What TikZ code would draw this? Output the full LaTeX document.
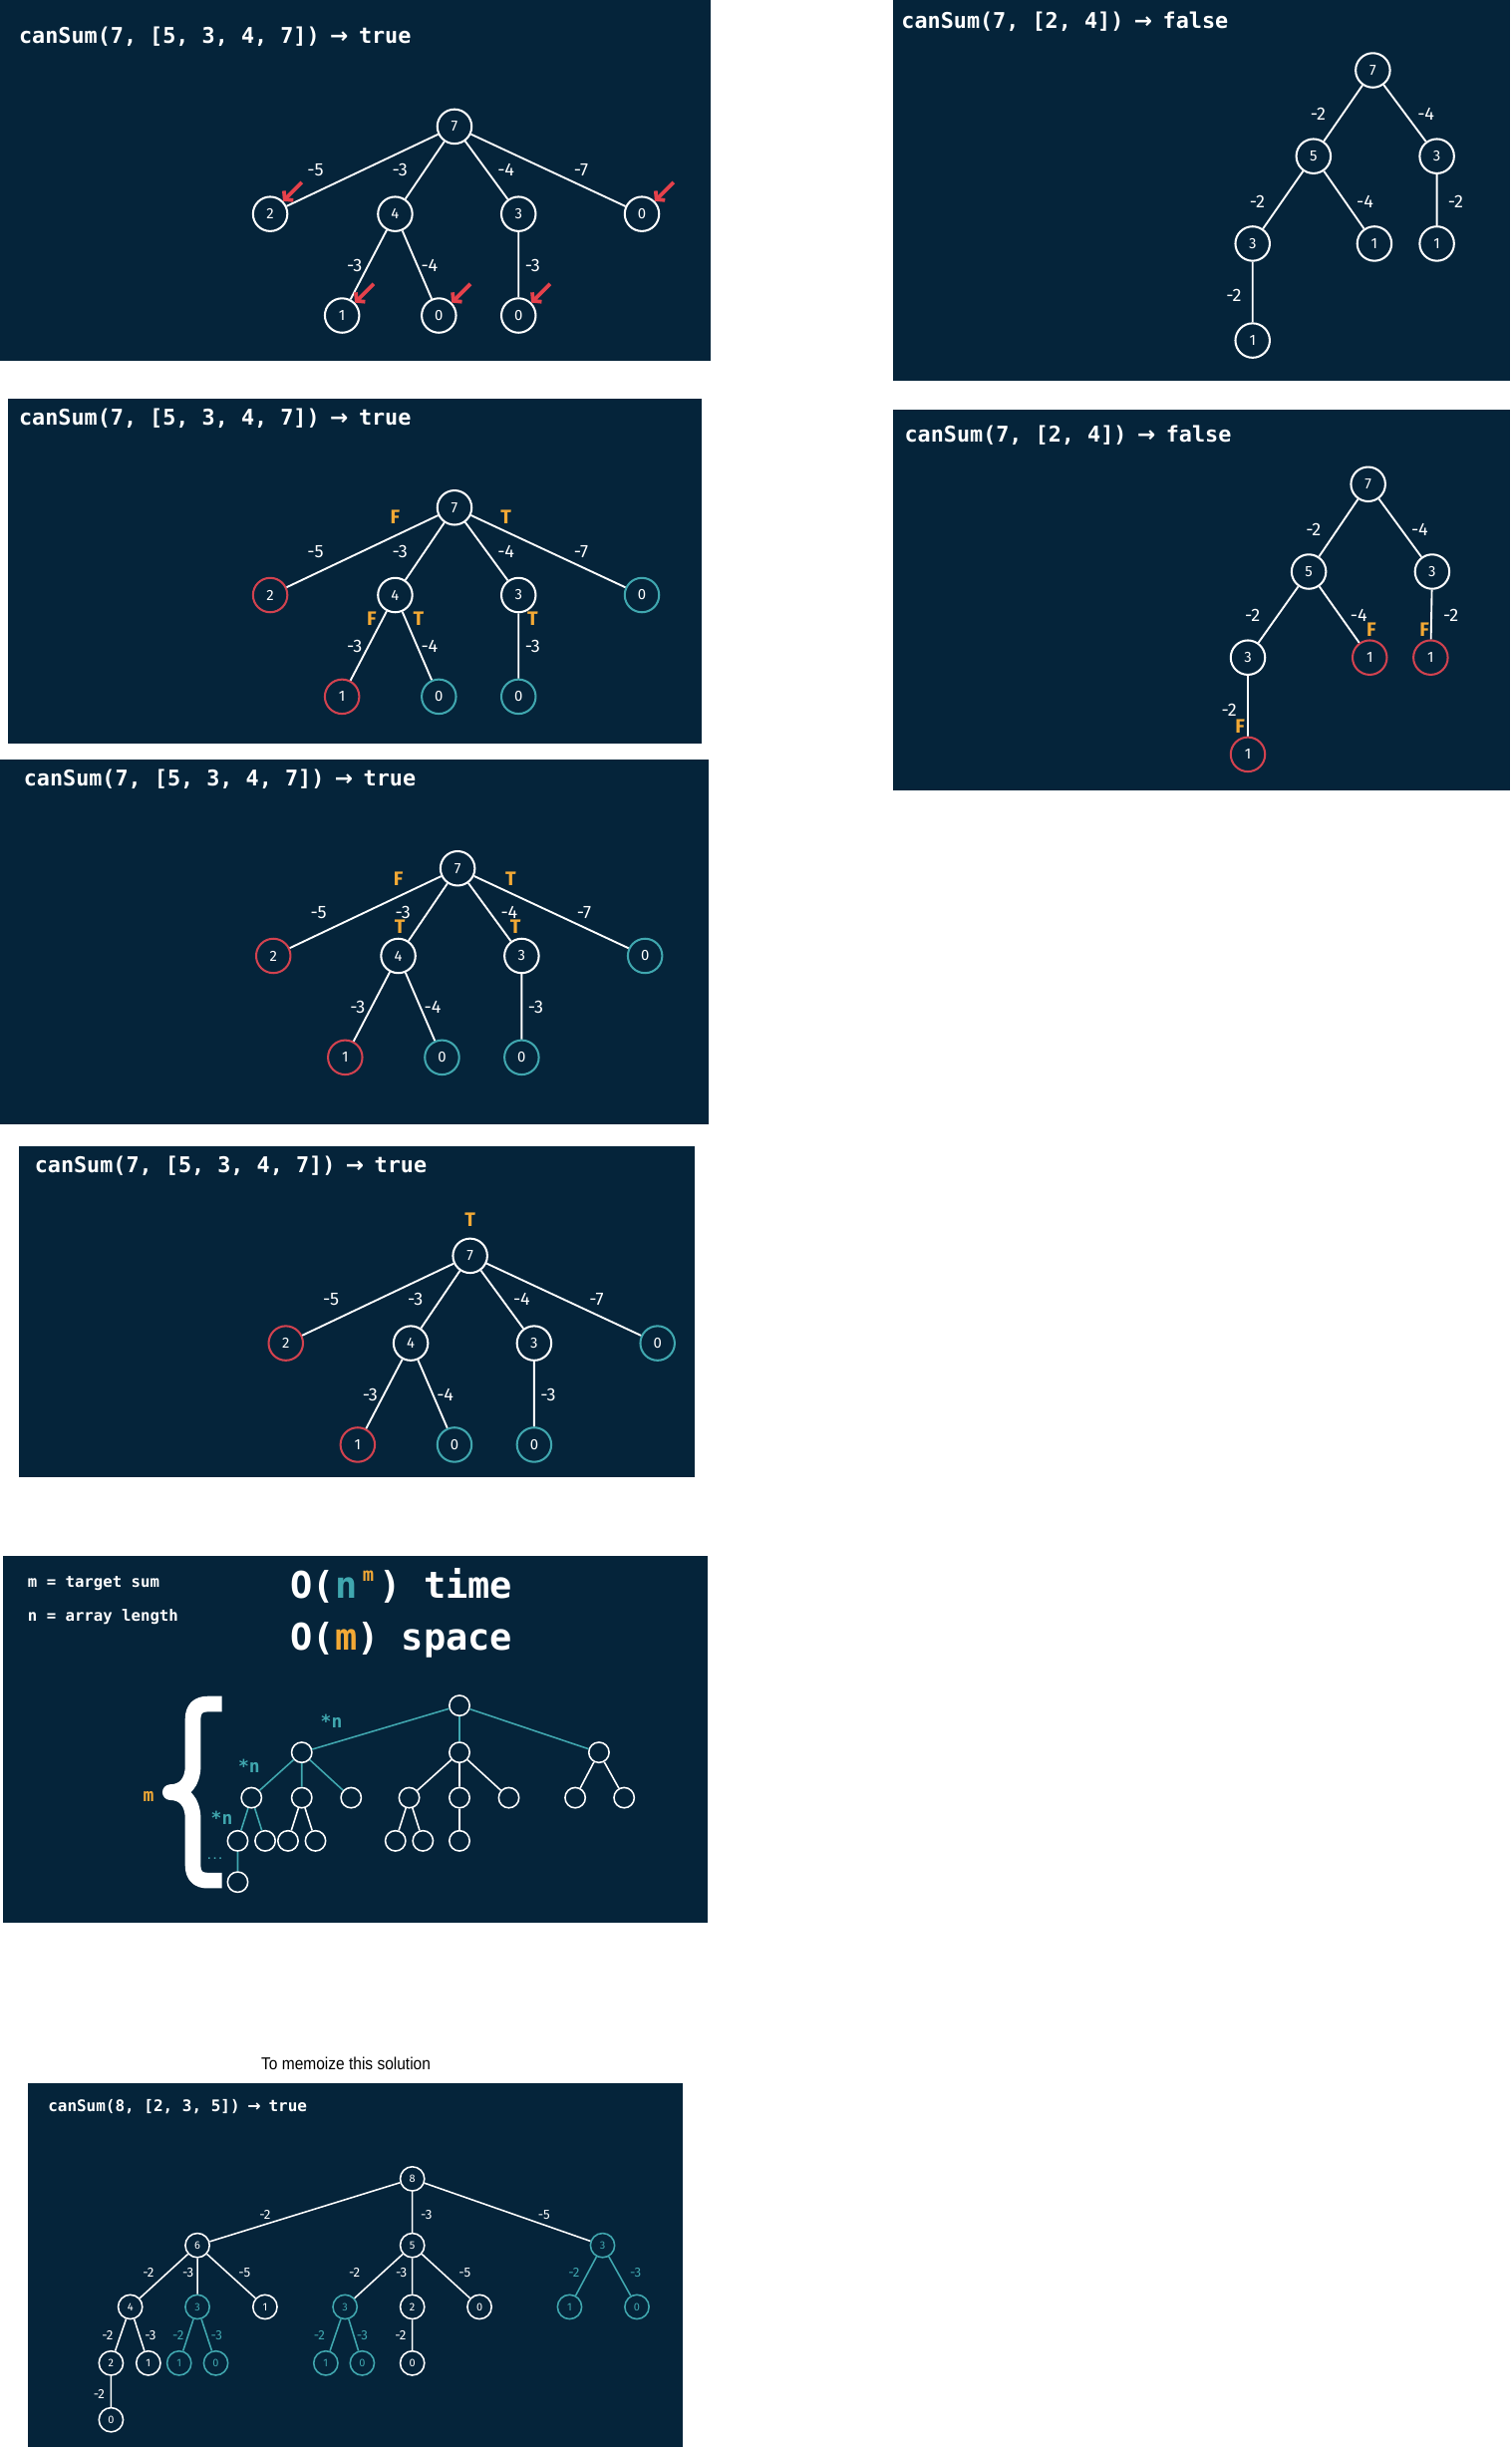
\documentclass[tikz,border=0pt]{standalone}
\usepackage{fontspec}
\setmainfont{Fira Sans}
\newfontfamily\codefont{DejaVu Sans Mono}
\newfontfamily\arrowfont{DejaVu Sans}
\newfontfamily\notefont{Liberation Sans}
\usepackage{graphicx}
\usetikzlibrary{arrows.meta}
\definecolor{slate}{HTML}{05243A}
\definecolor{failred}{HTML}{D2424F}
\definecolor{okteal}{HTML}{40A7AF}
\definecolor{flagorange}{HTML}{F3A935}
\definecolor{hitred}{HTML}{E5414B}
\newcommand{\yields}{\makebox[0.6em]{\arrowfont\bfseries →}}
\tikzset{
    panel/.style={fill=slate},
    heading/.style={anchor=west,inner sep=0pt,text=white,font=\codefont\bfseries\fontsize{13.9}{16}\selectfont},
    rest/.style={circle,draw=white,fill=slate,line width=1.3pt,minimum size=22pt,inner sep=0pt,text=white,font=\fontsize{9.5}{10}\selectfont},
    failed/.style={rest,draw=failred},
    reached/.style={rest,draw=okteal},
    branch/.style={draw=white,line width=1.2pt},
    cost/.style={inner sep=0pt,text=white,font=\fontsize{11.5}{13}\selectfont},
    flag/.style={inner sep=0pt,text=flagorange,font=\bfseries\fontsize{12.5}{14}\selectfont},
    hitmark/.style={draw=hitred,line width=2.4pt,{Straight Barb[length=3.5pt,width=8.5pt]}-},
    legend/.style={anchor=west,inner sep=0pt,text=white,font=\codefont\bfseries\fontsize{10}{12}\selectfont},
    bigo/.style={anchor=west,inner sep=0pt,text=white,font=\codefont\bfseries\fontsize{23.6}{26}\selectfont},
    hollow/.style={circle,draw=white,fill=slate,line width=1pt,minimum size=13pt,inner sep=0pt},
    twig/.style={draw=white,line width=1pt},
    tealtwig/.style={draw=okteal,line width=1pt},
    times/.style={inner sep=0pt,text=okteal,font=\codefont\bfseries\fontsize{11.5}{12}\selectfont},
    caption/.style={inner sep=0pt,text=black,font=\notefont\fontsize{11}{13}\selectfont},
    memo/.style={rest,minimum size=15.5pt,line width=1pt,font=\fontsize{7}{7}\selectfont},
    memoseen/.style={memo,draw=okteal,text=okteal},
    memocost/.style={cost,font=\fontsize{8.5}{9}\selectfont},
    memoseencost/.style={memocost,text=okteal},
}

\begin{document}
\begin{tikzpicture}[x=1pt,y=-1pt]
\fill[white] (0,0) rectangle (968,1568);
\useasboundingbox (0,0) rectangle (968,1568);

% canSum(7, [5, 3, 4, 7]) -- base cases
\fill[panel] (0,0) rectangle (455,231);
\node[heading] (t1) at (12,23.5) {canSum(7, [5, 3, 4, 7]) \yields{} true};
\begin{scope}[shift={(291,81)},name prefix=one-]
\node[rest] (r) at (0,0) {7};
\node[rest] (a) at (-118,56) {2};
\node[rest] (b) at (-38,56) {4};
\node[rest] (c) at (41,56) {3};
\node[rest] (d) at (120,56) {0};
\node[rest] (e) at (-72,121) {1};
\node[rest] (f) at (-10,121) {0};
\node[rest] (g) at (41,121) {0};
\draw[branch] (r) -- (a) (r) -- (b) (r) -- (c) (r) -- (d) (b) -- (e) (b) -- (f) (c) -- (g);
\node[cost] (ra) at (-89,28) {-5};
\node[cost] (rb) at (-35,28) {-3};
\node[cost] (rc) at (33,28) {-4};
\node[cost] (rd) at (81,28) {-7};
\node[cost] (be) at (-64,89) {-3};
\node[cost] (bf) at (-16,89) {-4};
\node[cost] (cg) at (50,89) {-3};
\draw[hitmark] (a.45) -- ++(12pt,12pt);
\draw[hitmark] (d.45) -- ++(12pt,12pt);
\draw[hitmark] (e.45) -- ++(12pt,12pt);
\draw[hitmark] (f.45) -- ++(12pt,12pt);
\draw[hitmark] (g.45) -- ++(12pt,12pt);
\end{scope}

% canSum(7, [2, 4])
\fill[panel] (572,0) rectangle (967,244);
\node[heading] (t2) at (577,14) {canSum(7, [2, 4]) \yields{} false};
\begin{scope}[shift={(879,45)},name prefix=two-]
\node[rest] (r) at (0,0) {7};
\node[rest] (a) at (-38,55) {5};
\node[rest] (b) at (41,55) {3};
\node[rest] (c) at (-77,111) {3};
\node[rest] (d) at (1,111) {1};
\node[rest] (e) at (41,111) {1};
\node[rest] (f) at (-77,173) {1};
\draw[branch] (r) -- (a) (r) -- (b) (a) -- (c) (a) -- (d) (b) -- (e) (c) -- (f);
\node[cost] (ra) at (-35,28) {-2};
\node[cost] (rb) at (34,28) {-4};
\node[cost] (ac) at (-74,84) {-2};
\node[cost] (ad) at (-5,84) {-4};
\node[cost] (be) at (53,84) {-2};
\node[cost] (cf) at (-89,144) {-2};
\end{scope}

% canSum(7, [5, 3, 4, 7]) -- results coming back
\fill[panel] (5,255) rectangle (449,476);
\node[heading] (t3) at (12,268) {canSum(7, [5, 3, 4, 7]) \yields{} true};
\begin{scope}[shift={(291,325)},name prefix=three-]
\node[rest] (r) at (0,0) {7};
\node[failed] (a) at (-118,56) {2};
\node[rest] (b) at (-38,56) {4};
\node[rest] (c) at (41,56) {3};
\node[reached] (d) at (120,56) {0};
\node[failed] (e) at (-72,121) {1};
\node[reached] (f) at (-10,121) {0};
\node[reached] (g) at (41,121) {0};
\draw[branch] (r) -- (a) (r) -- (b) (r) -- (c) (r) -- (d) (b) -- (e) (b) -- (f) (c) -- (g);
\node[cost] (ra) at (-89,28) {-5};
\node[cost] (rb) at (-35,28) {-3};
\node[cost] (rc) at (33,28) {-4};
\node[cost] (rd) at (81,28) {-7};
\node[cost] (be) at (-64,89) {-3};
\node[cost] (bf) at (-16,89) {-4};
\node[cost] (cg) at (50,89) {-3};
\node[flag] (fa) at (-38,6) {F};
\node[flag] (fd) at (33,6) {T};
\node[flag] (fe) at (-53,71) {F};
\node[flag] (ff) at (-23,71) {T};
\node[flag] (fg) at (50,71) {T};
\end{scope}

% canSum(7, [2, 4]) -- every leaf fails
\fill[panel] (572,262) rectangle (967,506);
\node[heading] (t4) at (579,278.5) {canSum(7, [2, 4]) \yields{} false};
\begin{scope}[shift={(876,310)},name prefix=four-]
\node[rest] (r) at (0,0) {7};
\node[rest] (a) at (-38,56) {5};
\node[rest] (b) at (41,56) {3};
\node[rest] (c) at (-77,111) {3};
\node[failed] (d) at (1,111) {1};
\node[failed] (e) at (40,111) {1};
\node[failed] (f) at (-77,173) {1};
\draw[branch] (r) -- (a) (r) -- (b) (a) -- (c) (a) -- (d) (b) -- (e) (c) -- (f);
\node[cost] (ra) at (-35,29) {-2};
\node[cost] (rb) at (33,29) {-4};
\node[cost] (ac) at (-74,84) {-2};
\node[cost] (ad) at (-6,84) {-4};
\node[cost] (be) at (53,84) {-2};
\node[cost] (cf) at (-89,144.5) {-2};
\node[flag] (fd) at (2,93) {F};
\node[flag] (fe) at (36,93) {F};
\node[flag] (ff) at (-82,155) {F};
\end{scope}

% canSum(7, [5, 3, 4, 7]) -- true reaches the second level
\fill[panel] (0,486) rectangle (454,720);
\node[heading] (t5) at (15,499) {canSum(7, [5, 3, 4, 7]) \yields{} true};
\begin{scope}[shift={(293,556)},name prefix=five-]
\node[rest] (r) at (0,0) {7};
\node[failed] (a) at (-118,56) {2};
\node[rest] (b) at (-38,56) {4};
\node[rest] (c) at (41,56) {3};
\node[reached] (d) at (120,56) {0};
\node[failed] (e) at (-72,121) {1};
\node[reached] (f) at (-10,121) {0};
\node[reached] (g) at (41,121) {0};
\draw[branch] (r) -- (a) (r) -- (b) (r) -- (c) (r) -- (d) (b) -- (e) (b) -- (f) (c) -- (g);
\node[cost] (ra) at (-89,28) {-5};
\node[cost] (rb) at (-35,28) {-3};
\node[cost] (rc) at (33,28) {-4};
\node[cost] (rd) at (81,28) {-7};
\node[cost] (be) at (-64,89) {-3};
\node[cost] (bf) at (-16,89) {-4};
\node[cost] (cg) at (50,89) {-3};
\node[flag] (fa) at (-38,7) {F};
\node[flag] (fd) at (34,7) {T};
\node[flag] (fb) at (-37,37) {T};
\node[flag] (fc) at (37,37) {T};
\end{scope}

% canSum(7, [5, 3, 4, 7]) -- root returns true
\fill[panel] (12,734) rectangle (445,946);
\node[heading] (t6) at (22,746.5) {canSum(7, [5, 3, 4, 7]) \yields{} true};
\begin{scope}[shift={(301,804)},name prefix=six-]
\node[rest] (r) at (0,0) {7};
\node[failed] (a) at (-118,56) {2};
\node[rest] (b) at (-38,56) {4};
\node[rest] (c) at (41,56) {3};
\node[reached] (d) at (120,56) {0};
\node[failed] (e) at (-72,121) {1};
\node[reached] (f) at (-10,121) {0};
\node[reached] (g) at (41,121) {0};
\draw[branch] (r) -- (a) (r) -- (b) (r) -- (c) (r) -- (d) (b) -- (e) (b) -- (f) (c) -- (g);
\node[cost] (ra) at (-89,28) {-5};
\node[cost] (rb) at (-35,28) {-3};
\node[cost] (rc) at (33,28) {-4};
\node[cost] (rd) at (81,28) {-7};
\node[cost] (be) at (-64,89) {-3};
\node[cost] (bf) at (-16,89) {-4};
\node[cost] (cg) at (50,89) {-3};
\node[flag] (fr) at (0,-23) {T};
\end{scope}

% complexity
\fill[panel] (2,996) rectangle (453,1231);
\node[legend] (lm) at (17.6,1013.5) {m = target sum};
\node[legend] (ln) at (17.6,1035) {n = array length};
\node[bigo] (time) at (185.9,1015) {O({\color{okteal}n}\makebox[0.6em]{\raisebox{0.45em}{\fontsize{12}{12}\selectfont\color{flagorange}m}}) time};
\node[bigo] (space) at (185.9,1050) {O({\color{flagorange}m}) space};
\draw[white,line width=10pt,line join=round] (142,1091) -- (133,1091)
  .. controls (127,1091) and (123.5,1094) .. (123.5,1101) -- (123.5,1131)
  .. controls (123.5,1141) and (118,1147.5) .. (109,1147.5)
  .. controls (118,1147.5) and (123.5,1154) .. (123.5,1164) -- (123.5,1194)
  .. controls (123.5,1201) and (127,1204) .. (133,1204) -- (142,1204);
\node[inner sep=0pt,text=flagorange,font=\codefont\bfseries\fontsize{11.5}{12}\selectfont] (depth) at (95.1,1150) {m};
\node[hollow] (r) at (294.2,1092) {};
\node[hollow] (a) at (193.2,1122) {};
\node[hollow] (b) at (294.2,1122) {};
\node[hollow] (c) at (383.5,1122) {};
\node[hollow] (a1) at (161,1151) {};
\node[hollow] (a2) at (193.2,1151) {};
\node[hollow] (a3) at (224.8,1151) {};
\node[hollow] (b1) at (262,1151) {};
\node[hollow] (b2) at (294.2,1151) {};
\node[hollow] (b3) at (325.8,1151) {};
\node[hollow] (c1) at (368.3,1151) {};
\node[hollow] (c2) at (399.6,1151) {};
\node[hollow] (a1a) at (152.2,1178.6) {};
\node[hollow] (a1b) at (169.8,1178.6) {};
\node[hollow] (a2a) at (184.4,1178.6) {};
\node[hollow] (a2b) at (202,1178.6) {};
\node[hollow] (b1a) at (253.2,1178.6) {};
\node[hollow] (b1b) at (270.8,1178.6) {};
\node[hollow] (b2a) at (294.2,1178.6) {};
\node[hollow] (a1a1) at (152.2,1205) {};
\draw[tealtwig] (r) -- (a) (r) -- (b) (r) -- (c) (a) -- (a1) (a) -- (a2) (a) -- (a3)
  (a1) -- (a1a) (a1) -- (a1b) (a1a) -- (a1a1);
\draw[twig] (b) -- (b1) (b) -- (b2) (b) -- (b3) (c) -- (c1) (c) -- (c2)
  (a2) -- (a2a) (a2) -- (a2b) (b1) -- (b1a) (b1) -- (b1b) (b2) -- (b2a);
\node[times] (n1) at (212.2,1102) {*n};
\node[times] (n2) at (159.5,1131) {*n};
\node[times] (n3) at (142,1164) {*n};
\node[times,font=\codefont\bfseries\fontsize{6}{6}\selectfont] (more) at (137.6,1190) {...};

% canSum(8, [2, 3, 5]) -- repeated subtrees
\node[caption] (cap) at (221.5,1321.4) {\scalebox{0.9}[1]{To memoize this solution}};
\fill[panel] (18,1334) rectangle (437,1567);
\node[heading,font=\codefont\bfseries\fontsize{10.2}{12}\selectfont] (t8) at (30.6,1348.6) {canSum(8, [2, 3, 5]) \yields{} true};
\node[memo] (m) at (264,1395) {8};
\node[memo] (ma) at (126.4,1437.6) {6};
\node[memo] (mb) at (264,1437.6) {5};
\node[memoseen] (mc) at (385.8,1437.6) {3};
\node[memo] (maa) at (83.4,1477) {4};
\node[memoseen] (mab) at (126.4,1477) {3};
\node[memo] (mac) at (169.7,1477) {1};
\node[memoseen] (mba) at (220.9,1477) {3};
\node[memo] (mbb) at (264,1477) {2};
\node[memo] (mbc) at (307,1477) {0};
\node[memoseen] (mca) at (364.7,1477) {1};
\node[memoseen] (mcb) at (407.8,1477) {0};
\node[memo] (maaa) at (71.1,1513) {2};
\node[memo] (maab) at (95,1513) {1};
\node[memoseen] (maba) at (114.7,1513) {1};
\node[memoseen] (mabb) at (138.2,1513) {0};
\node[memoseen] (mbaa) at (208.6,1513) {1};
\node[memoseen] (mbab) at (231.9,1513) {0};
\node[memo] (mbba) at (264,1513) {0};
\node[memo] (maaaa) at (71.1,1549.3) {0};
\draw[twig] (m) -- (ma) (m) -- (mb) (m) -- (mc) (ma) -- (maa) (ma) -- (mab) (ma) -- (mac)
  (mb) -- (mba) (mb) -- (mbb) (mb) -- (mbc) (maa) -- (maaa) (maa) -- (maab)
  (mbb) -- (mbba) (maaa) -- (maaaa);
\draw[tealtwig] (mc) -- (mca) (mc) -- (mcb) (mab) -- (maba) (mab) -- (mabb)
  (mba) -- (mbaa) (mba) -- (mbab);
\node[memocost] (ka) at (169.7,1418.2) {-2};
\node[memocost] (kb) at (273,1418) {-3};
\node[memocost] (kc) at (348.3,1418) {-5};
\node[memocost] (kaa) at (95,1455) {-2};
\node[memocost] (kab) at (120.4,1455) {-3};
\node[memocost] (kac) at (156.5,1455) {-5};
\node[memocost] (kba) at (227,1455) {-2};
\node[memocost] (kbb) at (257,1455) {-3};
\node[memocost] (kbc) at (297.6,1455) {-5};
\node[memoseencost] (kca) at (367.5,1455) {-2};
\node[memoseencost] (kcb) at (407,1455) {-3};
\node[memocost] (kaaa) at (68.9,1495.4) {-2};
\node[memocost] (kaab) at (96.3,1495.4) {-3};
\node[memoseencost] (kaba) at (114.1,1495.4) {-2};
\node[memoseencost] (kabb) at (138.7,1495.4) {-3};
\node[memoseencost] (kbaa) at (204.5,1495.4) {-2};
\node[memoseencost] (kbab) at (231.9,1495.4) {-3};
\node[memocost] (kbba) at (256.5,1495.4) {-2};
\node[memocost] (kaaaa) at (63.4,1532.7) {-2};
\end{tikzpicture}
\end{document}
